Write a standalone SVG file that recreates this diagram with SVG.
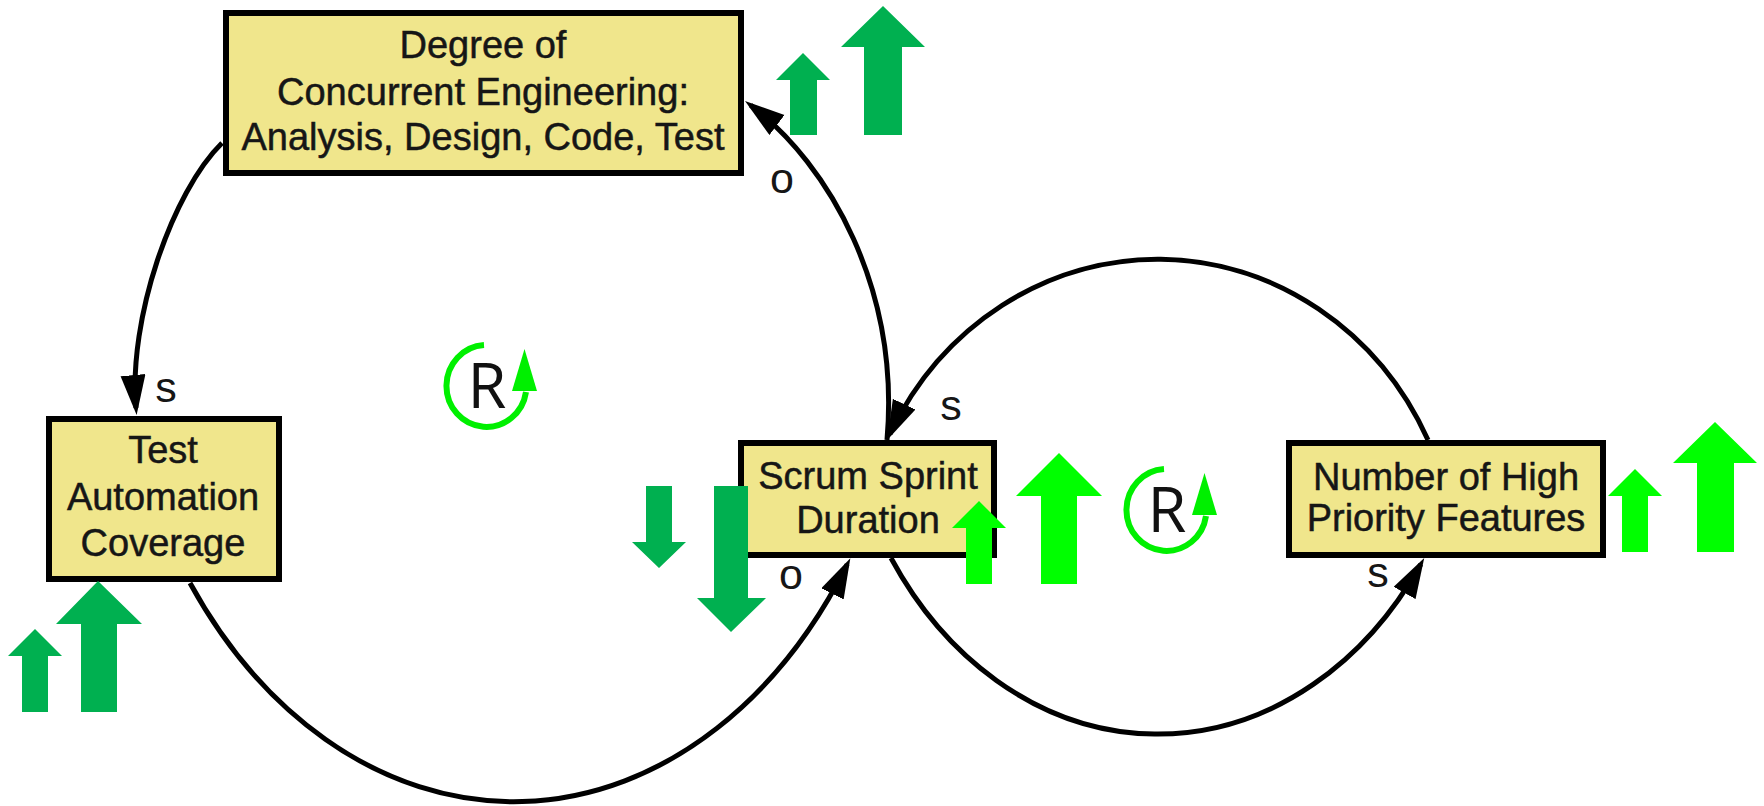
<svg xmlns="http://www.w3.org/2000/svg" width="1764" height="806" viewBox="0 0 1764 806">
<style>
.box{fill:#F0E68C;stroke:#000;stroke-width:6}
.t{font-family:"Liberation Sans",Arial,sans-serif;font-size:38px;fill:#161616;stroke:#161616;stroke-width:0.5;text-anchor:middle}
.lbl{font-family:"Liberation Sans",Arial,sans-serif;font-size:43px;fill:#161616;text-anchor:middle}
.link{fill:none;stroke:#000;stroke-width:5;marker-end:url(#ah)}
.dk{fill:#00B050}
.br{fill:#00FF00}
.ring{fill:none;stroke:#00F000;stroke-width:6}
.R{font-family:"Open Sans","Noto Sans",sans-serif;font-size:63px;fill:#111;text-anchor:middle}
</style>
<defs>
<marker id="ah" markerUnits="userSpaceOnUse" markerWidth="42" markerHeight="26" refX="33" refY="12.5" orient="auto">
<path d="M0,0 L40,12.5 L0,25 Z" fill="#000"/>
</marker>
<g id="loop">
<path class="ring" d="M484,345 A40,41 0 1 0 526,392"/>
<polygon points="512,391 537,391 524.5,349" fill="#00F000"/>
<text class="R" x="487" y="408">R</text>
</g>
</defs>
<rect width="1764" height="806" fill="#fff"/>
<g id="connectors">
<path class="link" d="M222,143 C172,192 128,320 136,408"/>
<path class="link" d="M190,583 A400,530 0 0 0 847.2,564.4"/>
<path class="link" d="M887,440 C900,290 830,165 750.6,105.2"/>
<path class="link" d="M1428,440 A300,319 0 0 0 890,434"/>
<path class="link" d="M891,558 A320,394 0 0 0 1420.8,564.2"/>
<text class="lbl" x="166" y="402">s</text>
<text class="lbl" x="782" y="193">o</text>
<text class="lbl" x="791" y="589">o</text>
<text class="lbl" x="951" y="420">s</text>
<text class="lbl" x="1378" y="587">s</text>
</g>
<g id="node-degree">
<rect class="box" x="226" y="13" width="515" height="160"/>
<text class="t" x="483" y="58">Degree of</text>
<text class="t" x="483" y="105">Concurrent Engineering:</text>
<text class="t" x="483" y="150">Analysis, Design, Code, Test</text>
</g>
<g id="node-test">
<rect class="box" x="49" y="419" width="230" height="160"/>
<text class="t" x="163" y="463">Test</text>
<text class="t" x="163" y="510">Automation</text>
<text class="t" x="163" y="556">Coverage</text>
</g>
<g id="node-scrum">
<rect class="box" x="741" y="443" width="253" height="112"/>
<text class="t" x="868" y="489">Scrum Sprint</text>
<text class="t" x="868" y="533">Duration</text>
</g>
<g id="node-features">
<rect class="box" x="1289" y="443" width="314" height="112"/>
<text class="t" x="1446" y="490">Number of High</text>
<text class="t" x="1446" y="531">Priority Features</text>
</g>
<g id="loop-left"><use href="#loop"/></g>
<g id="loop-right"><use href="#loop" transform="translate(680,124)"/></g>
<g id="trend-arrows">
<polygon class="dk" points="803,53 830,80 817,80 817,135 790,135 790,80 776,80"/>
<polygon class="dk" points="883,6 925,47 902,47 902,135 864,135 864,47 841,47"/>
<polygon class="dk" points="35,629 62,656 48,656 48,712 22,712 22,656 8,656"/>
<polygon class="dk" points="98,581 142,624 117,624 117,712 81,712 81,624 56,624"/>
<polygon class="dk" points="646,486 672,486 672,542 686,542 659,568 632,542 646,542"/>
<polygon class="dk" points="714,486 748,486 748,598 766,598 731,632 697,598 714,598"/>
<polygon class="br" points="979,501 1006,528 992,528 992,584 966,584 966,528 952,528"/>
<polygon class="br" points="1059,453 1102,496 1077,496 1077,584 1041,584 1041,496 1016,496"/>
<polygon class="br" points="1635,469 1662,496 1648,496 1648,552 1622,552 1622,496 1608,496"/>
<polygon class="br" points="1715,422 1757,463 1734,463 1734,552 1697,552 1697,463 1673,463"/>
</g>
</svg>
